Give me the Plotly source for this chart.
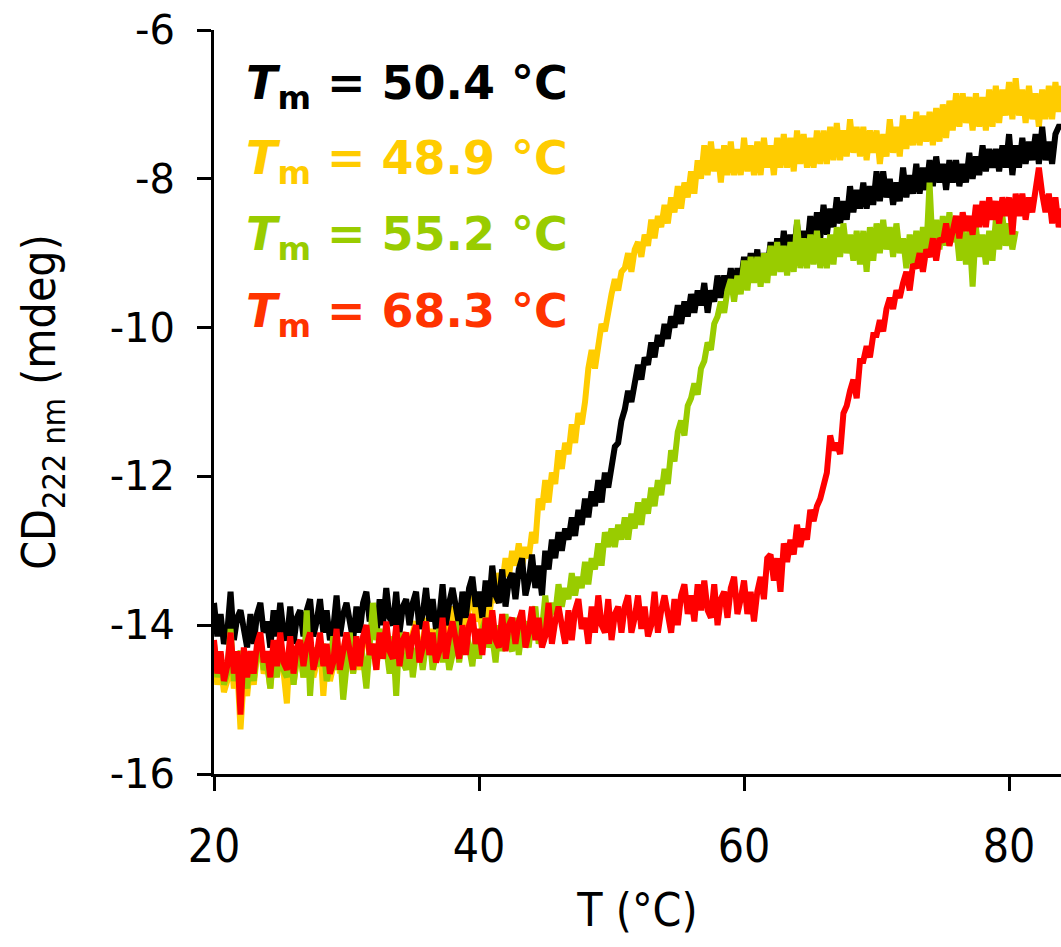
import numpy as np
import plotly.graph_objects as go

# Temperature grids (°C), 0.25 °C sampling
temp = np.arange(20.0, 84.0 + 1e-9, 0.25)
temp_green = np.arange(20.0, 80.5 + 1e-9, 0.25)

# CD222 nm (mdeg) (one row = 1 °C)
cd_black = [
    -13.70, -14.15, -13.85, -14.25,
    -14.10, -13.55, -14.20, -13.90,
    -13.80, -14.05, -14.30, -13.85,
    -14.25, -13.85, -13.70, -14.10,
    -13.95, -14.30, -13.80, -14.15,
    -13.70, -14.10, -14.20, -13.75,
    -14.25, -13.90, -13.80, -14.15,
    -13.80, -13.65, -14.15, -13.95,
    -13.65, -14.10, -13.80, -14.20,
    -14.05, -13.60, -14.15, -13.85,
    -13.70, -13.95, -14.20, -13.75,
    -14.10, -13.70, -13.55, -13.95,
    -13.80, -14.15, -13.65, -14.00,
    -13.50, -13.90, -14.00, -13.55,
    -14.10, -13.75, -13.65, -14.00,
    -13.70, -13.55, -14.05, -13.85,
    -13.50, -13.95, -13.65, -14.05,
    -13.90, -13.45, -14.00, -13.70,
    -13.50, -13.75, -14.00, -13.55,
    -13.90, -13.50, -13.35, -13.75,
    -13.55, -13.90, -13.40, -13.75,
    -13.20, -13.60, -13.70, -13.25,
    -13.75, -13.40, -13.30, -13.65,
    -13.25, -13.10, -13.60, -13.40,
    -13.05, -13.50, -13.20, -13.60,
    -13.00, -13.25, -12.85, -13.10,
    -12.75, -13.00, -12.70, -12.85,
    -12.55, -12.80, -12.45, -12.65,
    -12.30, -12.55, -12.20, -12.40,
    -12.05, -12.35, -11.95, -12.15,
    -11.90, -11.60, -11.55, -11.25,
    -11.10, -10.85, -11.00, -10.70,
    -10.50, -10.70, -10.40, -10.50,
    -10.20, -10.40, -10.10, -10.25,
    -9.95, -10.15, -9.85, -10.00,
    -9.70, -9.95, -9.65, -9.85,
    -9.55, -9.80, -9.50, -9.70,
    -9.40, -9.80, -9.50, -9.65,
    -9.30, -9.60, -9.30, -9.50,
    -9.20, -9.55, -9.20, -9.40,
    -9.05, -9.35, -9.00, -9.30,
    -8.95, -9.35, -9.00, -9.25,
    -8.85, -9.20, -8.80, -9.15,
    -8.70, -9.10, -8.75, -9.00,
    -8.60, -9.05, -8.70, -8.95,
    -8.50, -8.90, -8.45, -8.80,
    -8.35, -8.75, -8.40, -8.65,
    -8.25, -8.60, -8.30, -8.55,
    -8.10, -8.45, -8.15, -8.40,
    -8.05, -8.40, -8.10, -8.35,
    -7.90, -8.30, -7.90, -8.25,
    -8.00, -8.35, -8.05, -8.30,
    -7.85, -8.25, -7.95, -8.20,
    -7.80, -8.20, -7.85, -8.15,
    -7.75, -8.10, -7.70, -8.05,
    -7.80, -8.15, -7.75, -8.05,
    -7.75, -8.10, -7.80, -8.05,
    -7.65, -8.00, -7.70, -7.95,
    -7.55, -7.90, -7.60, -7.85,
    -7.60, -7.90, -7.55, -7.85,
    -7.40, -7.95, -7.55, -7.85,
    -7.45, -7.80, -7.50, -7.75,
    -7.40, -7.80, -7.30, -7.75,
    -7.50, -7.80, -7.40, -7.30,
    -7.30,
]

cd_gold = [
    -14.35, -14.80, -14.50, -14.90,
    -14.75, -14.30, -14.85, -14.55,
    -15.40, -14.70, -14.95, -14.50,
    -14.80, -14.40, -14.25, -14.65,
    -14.50, -14.85, -14.35, -14.70,
    -14.20, -14.60, -15.05, -14.25,
    -14.80, -14.45, -14.35, -14.70,
    -14.35, -14.20, -14.70, -14.50,
    -14.20, -14.95, -14.35, -14.75,
    -14.55, -14.10, -14.65, -14.35,
    -14.15, -14.40, -14.65, -14.20,
    -14.60, -14.20, -14.05, -14.45,
    -14.25, -14.60, -14.10, -14.45,
    -14.00, -14.40, -14.50, -14.05,
    -14.55, -14.20, -14.10, -14.45,
    -14.10, -13.95, -14.45, -14.25,
    -13.90, -14.35, -14.05, -14.45,
    -14.20, -13.75, -14.30, -14.00,
    -13.75, -14.00, -14.25, -13.80,
    -14.10, -13.70, -13.55, -13.95,
    -13.75, -14.10, -13.60, -13.95,
    -13.50, -13.70, -13.30, -13.45,
    -13.10, -13.35, -13.00, -13.20,
    -12.90, -13.20, -12.95, -13.10,
    -12.75, -12.90, -12.30, -12.45,
    -12.05, -12.35, -11.95, -12.10,
    -11.65, -11.90, -11.55, -11.70,
    -11.30, -11.55, -11.15, -11.30,
    -11.00, -10.55, -10.30, -10.55,
    -10.20, -9.95, -10.05, -9.75,
    -9.55, -9.35, -9.50, -9.25,
    -9.20, -9.00, -9.25, -8.95,
    -8.85, -9.05, -8.75, -8.90,
    -8.55, -8.80, -8.50, -8.65,
    -8.35, -8.60, -8.25, -8.45,
    -8.10, -8.40, -8.05, -8.25,
    -7.90, -8.20, -7.75, -8.00,
    -7.55, -7.95, -7.50, -7.90,
    -7.60, -8.05, -7.55, -7.95,
    -7.50, -7.95, -7.60, -7.95,
    -7.45, -7.90, -7.55, -7.95,
    -7.50, -7.95, -7.45, -7.85,
    -7.55, -7.95, -7.45, -7.85,
    -7.40, -7.85, -7.45, -7.90,
    -7.35, -7.80, -7.40, -7.85,
    -7.45, -7.85, -7.35, -7.80,
    -7.35, -7.80, -7.30, -7.75,
    -7.25, -7.75, -7.35, -7.70,
    -7.20, -7.65, -7.30, -7.70,
    -7.30, -7.75, -7.35, -7.65,
    -7.35, -7.80, -7.40, -7.70,
    -7.20, -7.65, -7.30, -7.70,
    -7.15, -7.60, -7.20, -7.55,
    -7.10, -7.55, -7.15, -7.50,
    -7.10, -7.55, -7.05, -7.50,
    -7.00, -7.45, -6.95, -7.35,
    -6.85, -7.30, -6.85, -7.25,
    -6.90, -7.35, -6.85, -7.30,
    -6.90, -7.35, -6.80, -7.30,
    -6.75, -7.25, -6.80, -7.15,
    -6.70, -7.20, -6.65, -7.15,
    -6.80, -7.25, -6.75, -7.20,
    -6.85, -7.30, -6.80, -7.20,
    -6.75, -7.20, -6.70, -7.10,
    -6.75,
]

cd_green = [
    -14.25, -14.70, -14.40, -14.80,
    -14.65, -14.05, -14.75, -14.45,
    -14.35, -14.60, -14.85, -14.40,
    -14.75, -14.35, -14.20, -14.60,
    -14.50, -14.85, -14.35, -14.70,
    -14.20, -14.60, -14.70, -14.25,
    -14.80, -14.45, -14.35, -14.70,
    -13.80, -14.95, -14.30, -14.55,
    -14.40, -14.25, -14.75, -14.55,
    -14.15, -14.60, -14.30, -15.00,
    -14.55, -14.10, -14.65, -14.35,
    -14.20, -14.45, -14.85, -14.25,
    -13.70, -14.20, -14.05, -14.45,
    -14.30, -14.65, -14.15, -14.95,
    -14.10, -14.50, -14.60, -14.15,
    -14.70, -14.35, -14.25, -14.60,
    -14.25, -14.10, -14.60, -14.40,
    -14.05, -14.50, -14.20, -14.60,
    -14.40, -13.95, -14.50, -14.20,
    -14.05, -14.30, -14.55, -14.10,
    -14.45, -14.05, -13.90, -14.30,
    -14.15, -14.50, -14.00, -14.35,
    -13.85, -14.25, -14.35, -13.90,
    -14.40, -14.05, -13.95, -14.30,
    -13.90, -13.75, -14.25, -14.05,
    -13.60, -14.05, -13.70, -13.85,
    -13.45, -13.75, -13.50, -13.65,
    -13.30, -13.60, -13.35, -13.50,
    -13.15, -13.45, -13.10, -13.25,
    -12.90, -13.20, -12.75, -12.95,
    -12.70, -12.95, -12.65, -12.85,
    -12.55, -12.85, -12.50, -12.70,
    -12.35, -12.65, -12.30, -12.50,
    -12.15, -12.40, -12.05, -12.25,
    -11.90, -12.10, -11.65, -11.80,
    -11.40, -11.25, -11.45, -11.05,
    -10.95, -10.75, -10.90, -10.55,
    -10.45, -10.20, -10.30, -9.95,
    -9.85, -9.65, -9.80, -9.50,
    -9.35, -9.65, -9.30, -9.55,
    -9.10, -9.50, -9.05, -9.40,
    -9.05, -9.45, -9.00, -9.40,
    -8.90, -9.30, -8.85, -9.25,
    -8.90, -9.30, -8.85, -9.25,
    -8.55, -9.20, -8.80, -9.20,
    -8.75, -9.15, -8.70, -9.20,
    -8.80, -9.20, -8.75, -9.15,
    -8.65, -9.05, -8.60, -9.00,
    -8.75, -9.10, -8.70, -9.15,
    -8.70, -9.25, -8.65, -9.10,
    -8.60, -9.00, -8.55, -8.95,
    -8.65, -9.05, -8.60, -9.00,
    -8.80, -9.20, -8.75, -9.15,
    -8.70, -9.10, -8.65, -9.00,
    -8.05, -9.00, -8.55, -8.95,
    -8.50, -8.90, -8.45, -8.85,
    -8.65, -9.10, -8.70, -9.15,
    -8.70, -9.45, -8.65, -9.05,
    -8.75, -9.15, -8.70, -9.10,
    -8.55, -8.95, -8.50, -8.90,
    -8.60, -8.95, -8.70,
]

cd_red = [
    -14.20, -14.65, -14.35, -14.75,
    -14.55, -14.10, -14.65, -14.35,
    -15.20, -14.30, -14.70, -14.35,
    -14.65, -14.25, -14.10, -14.50,
    -14.35, -14.70, -14.20, -14.55,
    -14.10, -14.50, -14.60, -14.15,
    -14.65, -14.30, -14.20, -14.55,
    -14.25, -14.10, -14.60, -14.40,
    -14.10, -14.55, -14.25, -14.65,
    -14.50, -14.05, -14.60, -14.30,
    -14.10, -14.35, -14.60, -14.15,
    -14.55, -14.15, -14.00, -14.40,
    -14.25, -14.60, -14.10, -14.45,
    -13.95, -14.35, -14.45, -14.00,
    -14.55, -14.20, -14.10, -14.45,
    -14.15, -14.00, -14.50, -14.30,
    -13.95, -14.40, -14.10, -14.50,
    -14.35, -13.90, -14.45, -14.15,
    -13.95, -14.20, -14.45, -14.00,
    -14.40, -14.00, -13.85, -14.25,
    -14.05, -14.40, -13.90, -14.25,
    -13.80, -14.20, -14.30, -13.85,
    -14.35, -14.00, -13.90, -14.25,
    -13.95, -13.80, -14.30, -14.10,
    -13.75, -14.20, -13.90, -14.30,
    -14.15, -13.70, -14.25, -13.95,
    -13.75, -14.00, -14.25, -13.80,
    -14.20, -13.80, -13.65, -14.05,
    -13.90, -14.25, -13.75, -14.10,
    -13.60, -14.00, -14.10, -13.65,
    -14.20, -13.85, -13.75, -14.10,
    -13.75, -13.60, -14.10, -13.90,
    -13.60, -14.05, -13.75, -14.15,
    -14.00, -13.55, -14.10, -13.80,
    -13.60, -13.85, -14.10, -13.65,
    -14.00, -13.60, -13.45, -13.85,
    -13.60, -13.95, -13.45, -13.80,
    -13.40, -13.80, -13.90, -13.45,
    -14.00, -13.65, -13.55, -13.90,
    -13.50, -13.35, -13.85, -13.65,
    -13.40, -13.85, -13.55, -13.95,
    -13.55, -13.35, -13.65, -13.10,
    -13.05, -13.40, -13.10, -13.55,
    -12.90, -13.15, -12.85, -13.05,
    -12.65, -12.95, -12.70, -12.85,
    -12.45, -12.60, -12.40, -12.30,
    -12.10, -11.95, -11.45, -11.65,
    -11.55, -11.70, -11.15, -11.05,
    -10.85, -10.70, -10.95, -10.45,
    -10.45, -10.25, -10.40, -10.10,
    -10.10, -9.90, -10.05, -9.75,
    -9.60, -9.75, -9.50, -9.60,
    -9.40, -9.25, -9.50, -9.15,
    -9.20, -9.00, -9.25, -8.95,
    -9.05, -8.80, -9.10, -8.80,
    -8.85, -8.60, -8.90, -8.65,
    -8.50, -8.80, -8.45, -8.70,
    -8.50, -8.75, -8.35, -8.65,
    -8.30, -8.65, -8.25, -8.55,
    -8.30, -8.60, -8.25, -8.50,
    -8.25, -8.75, -8.20, -8.50,
    -8.20, -8.55, -8.25, -8.45,
    -8.10, -7.85, -8.20, -8.45,
    -8.20, -8.60, -8.25, -8.65,
    -8.40,
]

tm_labels = ["50.4", "48.9", "55.2", "68.3"]
text_colors = ["#000000", "#FFCC00", "#99CC00", "#FF3300"]
label_rows_y = [0.924, 0.823, 0.721, 0.618]

yticks = [-16, -14, -12, -10, -8, -6]
ytick_text = ["-16", "-14", "-12", "-10", "-8", "-6"]
xticks = [20, 40, 60, 80]

fig = go.Figure()
for xs, ys, col in [
    (temp, cd_gold, "#FFCC00"),
    (temp, cd_black, "#000000"),
    (temp_green, cd_green, "#99CC00"),
    (temp, cd_red, "#FF0000"),
]:
    fig.add_trace(go.Scatter(x=xs, y=ys, mode="lines",
                             line=dict(color=col, width=6),
                             showlegend=False, hoverinfo="skip"))

for lab, col, yy in zip(tm_labels, text_colors, label_rows_y):
    fig.add_annotation(
        xref="paper", yref="paper", x=0.036, y=yy,
        xanchor="left", yanchor="middle", showarrow=False,
        text=f"<b><i>T</i><sub>m</sub> = {lab} °C</b>",
        font=dict(family="DejaVu Sans", size=46, color=col),
    )

cond = "DejaVu Sans Condensed, DejaVu Sans"
fig.update_layout(
    width=1061, height=947,
    margin=dict(l=214, r=0, t=30, b=173),
    paper_bgcolor="white", plot_bgcolor="white",
    xaxis=dict(
        range=[20, 83.92], tickvals=xticks, showgrid=False, zeroline=False,
        showline=True, linecolor="black", linewidth=3,
        ticks="outside", ticklen=14, tickwidth=2.5, tickcolor="black",
        ticklabelstandoff=16,
        tickfont=dict(family=cond, size=46, color="black"),
        title=dict(text="T (°C)", font=dict(family=cond, size=46, color="black"),
                   standoff=22),
    ),
    yaxis=dict(
        range=[-16, -6], tickvals=yticks, ticktext=ytick_text,
        showgrid=False, zeroline=False,
        showline=True, linecolor="black", linewidth=3,
        ticks="outside", ticklen=14, tickwidth=2.5, tickcolor="black",
        ticklabelstandoff=14,
        tickfont=dict(family="DejaVu Sans", size=40, color="black"),
        title=dict(text="CD<sub>222 nm</sub> (mdeg)",
                   font=dict(family=cond, size=46, color="black"), standoff=40),
    ),
)

fig.write_html(
    "out.html",
    config={"displayModeBar": False},
    post_script="document.body.style.margin='0px';document.body.style.overflow='hidden';",
)
